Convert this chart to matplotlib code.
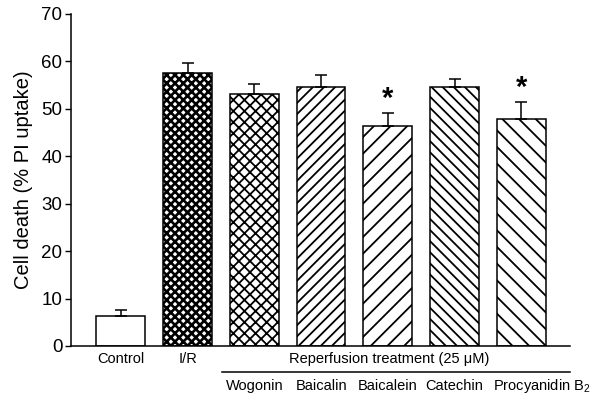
import numpy as np
import matplotlib
matplotlib.use('Agg')
import matplotlib.pyplot as plt
from matplotlib.lines import Line2D

plt.rcParams['font.family'] = ['Liberation Sans', 'DejaVu Sans']
plt.rcParams['mathtext.fontset'] = 'custom'
plt.rcParams['mathtext.rm'] = 'Liberation Sans'
plt.rcParams['mathtext.default'] = 'regular'

# data
groups = ['Control', 'I/R', 'Wogonin', 'Baicalin', 'Baicalein', 'Catechin', 'Procyanidin B$_2$']
cell_death = [6.3, 57.5, 53.1, 54.7, 46.4, 54.7, 47.9]
sem = [1.3, 2.2, 2.1, 2.4, 2.7, 1.6, 3.6]
significant = [False, False, False, False, True, False, True]
hatches = ['', 'xxxx', 'xxx', '///', '//', '\\\\\\', '\\\\']
treatment_label = 'Reperfusion treatment (25 \u03bcM)'

fig = plt.figure(figsize=(6, 4), dpi=100)
ax = fig.add_axes([0.118, 0.135, 0.832, 0.83])

x = np.arange(len(groups))
bars = ax.bar(x, cell_death, width=0.73, color='white', edgecolor='black', linewidth=1.1)
for b, h in zip(bars, hatches):
    b.set_hatch(h)
    if hasattr(b, 'set_hatch_linewidth'):
        b.set_hatch_linewidth(1.9 if h == 'xxxx' else 1.3)

ax.errorbar(x, cell_death, yerr=[np.zeros(len(sem)), sem], fmt='none',
            ecolor='black', elinewidth=1.1, capsize=4, capthick=1.1)

for xi, v, e, s in zip(x, cell_death, sem, significant):
    if s:
        ax.text(xi, v + e, '*', ha='center', va='bottom', fontsize=21,
                fontweight='bold')

ax.set_xlim(-0.75, 6.73)
ax.set_ylim(0, 70)
ax.set_yticks(np.arange(0, 71, 10))
ax.tick_params(axis='y', labelsize=13.5, length=4, width=1.0, direction='out', pad=2)
ax.set_xticks([])
ax.set_ylabel('Cell death (% PI uptake)', fontsize=14.5, labelpad=6)
ax.spines['top'].set_visible(False)
ax.spines['right'].set_visible(False)
ax.spines['left'].set_linewidth(1.1)
ax.spines['bottom'].set_linewidth(1.1)

# group labels under the axis
tr = ax.get_xaxis_transform()
ax.text(0, -0.04, groups[0], transform=tr, ha='center', va='center', fontsize=10.5)
ax.text(1, -0.04, groups[1], transform=tr, ha='center', va='center', fontsize=10.5)
ax.text(4.02, -0.04, treatment_label, transform=tr, ha='center', va='center', fontsize=10.5)
ax.add_line(Line2D([1.51, 6.73], [-0.078, -0.078], transform=tr, color='black',
                   linewidth=1.1, clip_on=False))
for xi, name in zip(x[2:], groups[2:]):
    xpos = xi + 0.31 if 'Procyanidin' in name else xi
    ax.text(xpos, -0.12, name, transform=tr, ha='center', va='center', fontsize=10.5)

fig.savefig('out.png', dpi=100)
